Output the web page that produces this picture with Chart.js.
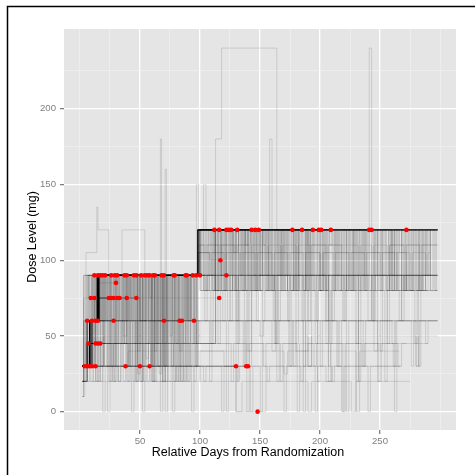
<!DOCTYPE html>
<html>
<head>
<meta charset="utf-8">
<script src="https://cdn.jsdelivr.net/npm/chart.js@4"></script>
<style>
  html, body { margin: 0; padding: 0; background: #fff; }
  #wrap { width: 475px; height: 475px; position: relative; }
</style>
</head>
<body>
<div id="wrap"><canvas id="chart" width="475" height="475"></canvas></div>
<script>
// tick values
const dayTicks = [50, 100, 150, 200, 250];
const dayGrid = [0, 25, 50, 75, 100, 125, 150, 175, 200, 225, 250, 275, 300];
const doseTicks = [0, 50, 100, 150, 200];
const doseGrid = [0, 25, 50, 75, 100, 125, 150, 175, 200, 225];

// each track: day, dose, day, dose, ... (dose held until the next day)
const earlyTracks = [
  [2,30, 4,30],
  [2,20, 3,30, 6,30],
  [2,30, 8,30],
  [2,10, 4,30, 10,30],
  [2,30, 5,45, 9,30, 13,30],
  [2,30, 10,60, 20,30, 38,30],
  [2,30, 12,45, 30,30, 50,30],
  [3,30, 8,60, 16,75, 35,30, 58,30],
  [2,30, 7,45],
  [2,30, 6,45, 13,45],
  [2,20, 6,30, 12,45, 15,45],
  [2,30, 8,45, 17,45],
  [2,30, 6,60],
  [2,30, 5,60, 10,60],
  [2,30, 7,45, 13,60],
  [2,30, 9,60, 15,60],
  [2,30, 8,60, 15,90, 22,60, 28,60],
  [2,30, 8,60, 16,90, 50,60, 55,90, 65,60, 70,60],
  [2,20, 6,45, 12,60, 40,90, 60,60, 83,60],
  [2,30, 10,60, 30,75, 50,60, 85,60],
  [2,30, 8,60, 18,90, 70,30, 73,90, 90,60, 95,60],
  [2,30, 9,75],
  [2,30, 6,60, 12,75],
  [2,30, 8,60, 15,75, 24,75],
  [2,30, 10,60, 16,75, 26,75],
  [2,20, 6,45, 14,75, 28,75],
  [2,30, 8,60, 16,90, 25,75, 31,75],
  [2,30, 10,60, 15,75, 33,75],
  [2,30, 8,60, 14,90, 30,75, 39,75],
  [2,30, 9,60, 16,75, 47,75],
  [2,30, 8,60, 16,85, 30,85],
  [2,30, 6,60, 10,90, 12,90],
  [2,30, 8,60, 12,90, 15,90],
  [2,30, 6,60, 14,90, 17,90],
  [2,30, 9,60, 15,90, 19,90],
  [2,20, 6,45, 12,75, 16,90, 21,90],
  [2,30, 8,60, 15,90, 20,60, 22,90, 26,90],
  [2,30, 8,60, 15,90, 25,45, 26,90, 29,90],
  [2,30, 10,60, 16,90, 31,90],
  [2,30, 8,60, 16,90, 28,20, 30,90, 37,90],
  [2,30, 8,60, 15,90, 33,60, 36,90, 39,90],
  [2,30, 6,60, 14,90, 30,45, 32,90, 45,90],
  [2,30, 8,60, 15,90, 40,30, 42,90, 47,90],
  [2,30, 8,60, 16,90, 35,60, 38,90, 51,90],
  [2,20, 6,60, 14,90, 44,20, 46,90, 54,90],
  [2,30, 8,60, 15,90, 48,40, 50,90, 56,90],
  [2,30, 10,60, 17,90, 42,75, 45,90, 58,90],
  [2,30, 8,60, 15,90, 52,30, 54,90, 61,90],
  [2,30, 8,60, 16,90, 36,50, 39,90, 62.5,90],
  [2,30, 8,60, 15,90, 60,20, 62,90, 68,90],
  [2,30, 6,60, 15,90, 45,60, 48,90, 66,25, 68,90, 70,90],
  [2,30, 8,60, 14,90, 55,35, 57,90, 72,60, 74,90, 78,90],
  [2,30, 8,60, 16,90, 64,30, 67,90, 79,90],
  [2,30, 8,60, 15,90, 69,20, 71,90, 80,45, 82,90, 88,90],
  [2,30, 10,60, 16,90, 58,75, 60,90, 75,50, 77,90, 89,90],
  [2,30, 8,60, 15,90, 70,30, 72,90, 85,60, 87,90, 94,90],
  [2,30, 8,60, 15,90, 62,40, 64,90, 90,20, 92,90, 97,90],
  [2,30, 6,60, 14,90, 48,25, 50,90, 77,0, 79,90, 100,90]
];

const lateTracks = [
  [2,30, 8,60, 15,90, 98,120, 112,120],
  [2,30, 8,60, 16,90, 99,120, 116,120],
  [2,30, 8,60, 15,90, 100,120, 110,80, 112,120, 122,120],
  [2,30, 8,60, 15,90, 98,120, 115,90, 117,120, 124,120],
  [2,30, 8,60, 15,90, 60,30, 62,90, 99,120, 126,120],
  [2,30, 8,60, 15,90, 99,120, 118,80, 121,120, 131,120],
  [2,30, 10,60, 16,90, 98,120, 125,80, 127,120, 143,120],
  [2,30, 8,60, 15,90, 99,120, 130,60, 132,120, 146,120],
  [2,30, 8,60, 15,90, 98,120, 122,90, 125,120, 138,80, 140,120, 149,120],
  [2,30, 8,60, 15,90, 99,120, 140,80, 142,120, 160,90, 163,120, 177,120],
  [2,30, 8,60, 15,90, 98,120, 128,105, 130,120, 150,80, 153,120, 170,90, 172,120, 185,120],
  [2,30, 8,60, 16,90, 99,120, 135,80, 137,120, 165,60, 167,120, 194,120],
  [2,30, 8,60, 15,90, 98,120, 145,90, 147,120, 175,80, 178,120, 199,120],
  [2,30, 8,60, 15,90, 99,120, 120,80, 122,120, 155,80, 157,120, 188,90, 190,120, 201,120],
  [2,30, 8,60, 15,90, 100,120, 132,80, 134,120, 168,80, 170,120, 195,80, 197,120, 209,120],
  [2,30, 8,60, 15,90, 98,120, 142,80, 144,120, 180,90, 182,120, 215,80, 218,120, 241,120],
  [2,30, 8,60, 15,90, 99,120, 150,80, 152,120, 190,60, 192,120, 225,80, 228,120, 243,120],
  [2,30, 8,60, 15,90, 98,120, 160,80, 162,120, 205,80, 207,120, 250,90, 252,120, 272,120],
  [2,30, 8,60, 15,90, 99,105, 108,100, 117,100],
  [2,30, 8,60, 15,90, 113,120, 118,90, 122,90],
  [2,30, 8,60, 16,75, 116,75],
  [2,30, 8,60, 15,90, 60,30, 100,20, 130,0, 148,0],
  [2,30, 30,60, 60,30, 130,30],
  [2,30, 8,60, 20,30, 100,40, 120,30, 138.5,30],
  [2,30, 8,45, 40,30, 140,30]
];

const completerTracks = [
  [2,30, 8,60, 15,90, 98,120, 130,80, 132,120, 170,80, 173,120, 220,80, 222,120, 260,80, 263,120, 298,120],
  [2,30, 8,60, 15,90, 99,120, 145,80, 147,120, 185,80, 188,120, 235,90, 237,120, 275,80, 278,120, 298,120],
  [2,30, 8,60, 15,90, 98,120, 112,80, 115,120, 155,90, 157,120, 200,80, 202,120, 245,80, 248,120, 285,80, 288,120, 298,120],
  [2,30, 8,60, 15,90, 100,120, 125,80, 127,120, 165,80, 168,120, 212,80, 214,120, 241,240, 243,120, 265,80, 268,120, 298,120],
  [2,30, 8,60, 15,90, 98,120, 138,110, 142,120, 178,80, 180,120, 228,80, 230,120, 292,80, 298,80],
  [2,30, 10,60, 16,90, 98,110, 140,120, 190,110, 220,120, 255,80, 258,110, 298,110],
  [2,30, 8,60, 15,90, 99,105, 130,80, 133,105, 200,80, 203,105, 265,80, 268,105, 272,80, 298,80],
  [2,30, 8,60, 15,90, 50,60, 52,90, 130,60, 132,90, 180,45, 182,90, 240,60, 243,90, 298,90],
  [2,30, 8,60, 14,90, 70,30, 72,90, 113,80, 150,90, 210,60, 212,90, 270,80, 272,90, 298,90],
  [2,30, 8,60, 15,90, 113,120, 140,90, 175,80, 178,90, 298,90],
  [2,30, 8,60, 100,45, 113,60, 160,40, 163,60, 215,30, 218,60, 260,45, 263,60, 298,60],
  [2,30, 10,60, 55,45, 58,60, 110,60, 150,50, 153,60, 200,30, 202,60, 250,40, 252,60, 280,30, 283,60, 298,60],
  [2,20, 6,45, 113,45, 180,40, 190,45, 265,30, 268,45, 290,45],
  [2,30, 60,20, 100,30, 150,0, 155,30, 205,20, 210,30, 267,30],
  [2,20, 80,30, 130,0, 135,20, 190,0, 193,20, 226,0, 230,20, 275,20],
  [2,30, 40,40, 113,40, 170,25, 173,40, 230,0, 233,40, 266,40],
  [2,30, 20,50, 113,50, 190,30, 193,50, 280,30, 282,50, 298,50],
  [2,30, 8,45, 113,120, 180,80, 182,120, 298,120],
  [2,30, 10,60, 113,120, 150,90, 152,120, 260,80, 262,120, 298,120],
  [2,30, 8,45, 113,90, 205,60, 207,90, 298,90],
  [2,30, 69,90, 98,120, 230,80, 232,120, 298,120],
  [2,30, 20,45, 69,90, 298,90]
];

// subjects with frequent short dose interruptions
const denseTracks = [
  [2,20, 3,90, 6,20, 8,90, 14,45, 16,90, 22,30, 24,90, 31,60, 33,90, 40,20, 42,90, 49,45, 51,90, 57,30, 59,90, 66,60, 68,90, 74,20, 76,90, 83,40, 85,90, 92,30, 94,90, 99,120, 106,80, 108,120, 117,90, 119,120, 127,80, 129,120, 138,80, 140,120, 149,90, 151,120, 158,80, 160,120, 169,80, 171,120, 181,80, 183,120, 192,90, 194,120, 204,80, 206,120, 216,80, 218,120, 227,80, 229,120, 239,90, 241,120, 251,80, 253,120, 262,80, 264,120, 274,80, 276,120, 286,80, 288,120, 298,120],
  [2,10, 3,60, 5,90, 9,30, 11,90, 18,60, 20,90, 27,20, 29,90, 35,45, 37,90, 44,30, 46,90, 53,60, 55,90, 61,20, 63,90, 70,45, 72,90, 79,30, 81,90, 87,60, 89,90, 95,20, 97,90, 101,120, 110,80, 112,120, 121,80, 123,120, 133,90, 135,120, 143,80, 145,120, 154,80, 156,120, 164,90, 166,120, 176,80, 178,120, 187,80, 189,120, 199,80, 201,120, 210,90, 212,120, 222,80, 224,120, 233,80, 235,120, 246,80, 248,120, 257,90, 259,120, 269,80, 271,120, 280,80, 282,120, 292,80, 294,120, 298,120],
  [2,30, 4,90, 11,20, 13,90, 20,45, 21,90, 26,30, 28,90, 38,60, 40,90, 47,20, 49,90, 55,30, 57,90, 64,45, 66,90, 72,30, 74,90, 81,20, 83,90, 90,45, 92,90, 98,120, 103,80, 105,120, 114,80, 116,120, 124,90, 126,120, 136,80, 138,120, 146,80, 148,120, 157,80, 159,120, 167,90, 169,120, 179,80, 181,120, 190,80, 192,120, 202,90, 204,120, 213,80, 215,120, 225,80, 227,120, 236,80, 238,120, 249,80, 251,120, 260,90, 262,120, 271,80, 273,120, 283,80, 285,120, 295,80, 297,120, 298,120],
  [2,30, 7,90, 12,60, 14,90, 24,20, 26,90, 33,45, 35,90, 42,30, 44,90, 51,20, 53,90, 60,60, 62,90, 68,30, 70,90, 77,45, 79,90, 86,20, 88,90, 96,30, 98,90, 104,60, 106,90, 115,45, 117,90, 125,60, 127,90, 137,30, 139,90, 147,60, 149,90, 162,45, 164,90, 173,60, 175,90, 186,30, 188,90, 197,60, 199,90, 208,45, 210,90, 220,60, 222,90, 232,30, 234,90, 244,60, 246,90, 256,45, 258,90, 268,60, 270,90, 282,30, 284,90, 298,90],
  [2,30, 6,60, 13,20, 15,60, 23,0, 25,60, 34,30, 36,60, 46,20, 48,60, 59,30, 61,60, 71,0, 73,60, 84,20, 86,60, 97,30, 99,60, 108,20, 110,60, 122,0, 124,60, 136,30, 138,60, 150,0, 152,60, 164,20, 166,60, 178,30, 180,60, 186,0, 188,60, 198,20, 200,60, 214,30, 216,60, 222,0, 224,60, 236,30, 238,60, 248,20, 250,60, 262,0, 264,60, 276,30, 278,60, 288,45, 290,60, 298,60],
  [2,30, 9,20, 11,30, 19,0, 21,30, 32,20, 34,30, 43,0, 45,30, 56,20, 58,30, 67,0, 69,30, 82,20, 84,30, 93,0, 95,30, 103,20, 105,30, 118,0, 120,30, 131,20, 133,30, 142,0, 144,30, 156,20, 158,30, 170,0, 172,30, 184,20, 186,30, 196,0, 198,30, 210,20, 212,30, 218,0, 220,30, 232,20, 234,30, 240,0, 242,30, 254,20, 256,30, 267,30],
  [2,30, 8,60, 15,90, 23,30, 25,90, 37,45, 39,90, 50,20, 52,90, 63,45, 65,90, 76,30, 78,90, 89,60, 91,90, 100,80, 109,45, 111,80, 119,60, 121,80, 131,45, 133,80, 141,30, 143,80, 152,60, 154,80, 163,45, 165,80, 174,30, 176,80, 185,60, 187,80, 196,45, 198,80, 207,30, 209,80, 219,60, 221,80, 230,45, 232,80, 243,60, 245,80, 254,30, 256,80, 266,60, 268,80, 279,45, 281,80, 292,80],
  [2,30, 8,60, 15,90, 19,60, 21,90, 29,45, 31,90, 41,60, 43,90, 53,20, 55,90, 65,30, 67,90, 80,60, 82,90, 93,45, 95,90, 100,120, 107,90, 109,120, 118,80, 120,120, 130,105, 132,120, 141,80, 143,120, 153,110, 155,120, 162,80, 164,120, 174,90, 176,120, 186,80, 188,120, 198,80, 200,120, 208,110, 210,120, 221,80, 223,120, 231,90, 233,120, 244,80, 246,120, 255,80, 257,120, 266,105, 268,120, 277,80, 279,120, 289,90, 291,120, 298,120],
  [2,30, 6,45, 14,20, 16,45, 26,30, 28,45, 39,20, 41,45, 52,0, 54,45, 63,30, 65,45, 78,20, 80,45, 91,30, 93,45, 113,45, 126,20, 128,45, 139,0, 141,45, 153,30, 155,45, 167,20, 169,45, 181,0, 183,45, 195,30, 197,45, 207,20, 209,45, 219,0, 221,45, 235,30, 237,45, 249,20, 251,45, 261,30, 263,45, 272,45],
  [2,20, 5,60, 10,90, 17,30, 19,90, 28,60, 30,90, 39,45, 41,90, 48,30, 50,90, 58,60, 60,90, 69,20, 71,90, 79,45, 81,90, 88,30, 90,90, 98,120, 102,90, 104,120, 111,80, 113,120, 122,80, 124,120, 134,90, 136,120, 147,80, 149,120, 159,80, 161,120, 172,90, 174,120, 183,80, 185,120, 194,80, 196,120, 206,90, 208,120, 217,80, 219,120, 229,80, 231,120, 241,80, 243,120, 252,90, 254,120, 264,80, 266,120, 276,80, 278,120, 287,90, 289,120, 298,120],
  [2,20, 3,90, 8,45, 10,90, 15,20, 17,90, 21,60, 23,90, 30,30, 32,90, 36,20, 38,90, 43,60, 45,90, 52,45, 54,90, 59,20, 61,90, 65,30, 67,90, 73,60, 75,90, 80,20, 82,90, 86,45, 88,90, 91,60, 93,90, 96,30, 98,90, 123,60, 125,90, 161,60, 163,90, 205,45, 207,90, 250,60, 252,90, 298,90],
  [2,20, 4,60, 7,90, 13,30, 15,90, 19,45, 21,90, 25,20, 27,90, 34,60, 36,90, 41,30, 43,90, 47,20, 49,90, 56,45, 58,90, 62,20, 64,90, 69,60, 71,90, 76,30, 78,90, 84,20, 86,90, 90,60, 92,90, 97,45, 99,60, 130,20, 132,60, 175,30, 177,60, 230,20, 232,60, 298,60],
  [2,10, 3,60, 6,90, 10,30, 12,90, 17,20, 19,90, 24,60, 26,90, 32,20, 34,90, 37,45, 39,90, 46,30, 48,90, 54,60, 56,90, 60,30, 62,90, 67,20, 69,90, 73,45, 75,90, 82,30, 84,90, 87,20, 89,90, 93,60, 95,90, 100,80, 140,40, 143,80, 190,30, 193,80, 245,40, 248,80, 290,80],
  [2,30, 3,75, 7,90, 11,45, 13,90, 18,30, 20,90, 23,60, 25,90, 29,20, 31,90, 39,30, 41,90, 45,45, 47,90, 50,20, 52,90, 57,60, 59,90, 63,45, 65,90, 71,20, 73,90, 77,60, 79,90, 83,30, 85,90, 89,20, 91,90, 95,45, 97,90, 98,120, 115,80, 117,120, 150,80, 152,120, 189,80, 191,120, 237,80, 239,120, 280,80, 282,120, 298,120],
  [2,30, 8,60, 15,90, 98,120, 101,80, 103,120, 109,90, 111,120, 119,80, 121,120, 128,80, 130,120, 137,90, 139,120, 148,80, 150,120, 156,80, 158,120, 166,90, 168,120, 177,80, 179,120, 189,80, 191,120, 198,90, 200,120, 211,80, 213,120, 222,80, 224,120, 234,80, 236,120, 245,90, 247,120, 258,80, 260,120, 268,80, 270,120, 281,80, 283,120, 290,90, 292,120, 298,120],
  [2,30, 8,60, 15,90, 99,120, 105,80, 107,120, 113,80, 115,120, 126,90, 128,120, 135,80, 137,120, 144,80, 146,120, 152,90, 154,120, 163,80, 165,120, 171,80, 173,120, 182,90, 184,120, 193,80, 195,120, 203,80, 205,120, 214,90, 216,120, 226,80, 228,120, 238,80, 240,120, 248,90, 250,120, 259,80, 261,120, 272,80, 274,120, 284,80, 286,120, 296,80, 298,80],
  [2,30, 8,60, 15,90, 100,110, 104,80, 106,110, 116,80, 118,110, 129,80, 131,110, 141,80, 143,110, 155,80, 157,110, 167,80, 169,110, 180,80, 182,110, 191,80, 193,110, 205,80, 207,110, 218,80, 220,110, 232,80, 234,110, 243,80, 245,110, 256,80, 258,110, 270,80, 272,110, 283,80, 285,110, 298,110],
  [2,30, 8,60, 15,90, 98,105, 108,80, 110,105, 120,80, 122,105, 134,80, 136,105, 146,80, 148,105, 160,80, 162,105, 173,80, 175,105, 186,80, 188,105, 200,80, 202,105, 211,80, 213,105, 224,80, 226,105, 237,80, 239,105, 250,80, 252,105, 262,80, 264,105, 275,80, 277,105, 288,80, 290,105, 292,105]
];

const outlierTracks = [
  [2,30, 8,60, 15,90, 98,120, 113,180, 118,240, 164,120, 200,80, 203,120, 298,120],
  [2,30, 8,60, 15,90, 67,180, 68,90, 71,160, 72,90, 100,120, 158,180, 160,120, 298,120],
  [2,30, 5,105, 14,135, 15,120, 24,90, 35,120, 54,90, 100,120, 298,120],
  [2,30, 8,60, 15,90, 97,150, 99,120, 103,150, 105,120, 298,120]
];

// red points (last dose of discontinued subjects)
const eventDays = [
  4, 6, 8, 10, 13, 38, 50, 58, 130, 138.5, 140,
  7, 13, 15, 17,
  6, 10, 13, 15, 28, 70, 83, 85, 95,
  9, 12, 24, 26, 28, 31, 33, 39, 47, 116,
  30,
  12, 15, 17, 19, 21, 26, 29, 31, 37, 39, 45, 47, 51, 54, 56, 58, 61, 62.5, 68, 70, 78, 79, 88, 89, 94, 97, 100, 122,
  117,
  112, 116, 122, 124, 126, 131, 143, 146, 149, 177, 185, 194, 199, 201, 209, 241, 243, 272,
  148
];
const eventDoses = [
  30, 30, 30, 30, 30, 30, 30, 30, 30, 30, 30,
  45, 45, 45, 45,
  60, 60, 60, 60, 60, 60, 60, 60, 60,
  75, 75, 75, 75, 75, 75, 75, 75, 75, 75,
  85,
  90, 90, 90, 90, 90, 90, 90, 90, 90, 90, 90, 90, 90, 90, 90, 90, 90, 90, 90, 90, 90, 90, 90, 90, 90, 90, 90, 90,
  100,
  120, 120, 120, 120, 120, 120, 120, 120, 120, 120, 120, 120, 120, 120, 120, 120, 120, 120,
  0
];

const toPoints = (t) => {
  const pts = [];
  for (let i = 0; i < t.length; i += 2) pts.push({ x: t[i], y: t[i + 1] });
  return pts;
};

const allTracks = [...earlyTracks, ...lateTracks, ...completerTracks, ...denseTracks, ...outlierTracks];

const datasets = allTracks.map((t) => ({
  data: toPoints(t),
  stepped: "before",
  borderColor: "rgba(0,0,0,0.12)",
  borderWidth: 1,
  pointRadius: 0,
  fill: false,
}));

datasets.push({
  data: eventDays.map((d, i) => ({ x: d, y: eventDoses[i] })),
  showLine: false,
  pointRadius: 2.3,
  pointBackgroundColor: "#FF0000",
  pointBorderWidth: 0,
  order: -1,
});

const panelBg = {
  id: "panelBg",
  beforeDraw(chart) {
    const { ctx, chartArea: a } = chart;
    ctx.save();
    ctx.fillStyle = "#E5E5E5";
    ctx.fillRect(a.left, a.top, a.right - a.left, a.bottom - a.top);
    ctx.restore();
  },
  afterDraw(chart) {
    const ctx = chart.ctx;
    ctx.save();
    // frame
    ctx.strokeStyle = "#000";
    ctx.lineWidth = 1.5;
    ctx.beginPath();
    ctx.moveTo(7.5, 475);
    ctx.lineTo(7.5, 6.5);
    ctx.lineTo(475, 6.5);
    ctx.stroke();
    // axis titles
    ctx.fillStyle = "#000";
    ctx.font = "12.5px 'Liberation Sans', Arial, sans-serif";
    ctx.textAlign = "center";
    ctx.textBaseline = "middle";
    ctx.fillText("Relative Days from Randomization", 248, 453);
    ctx.translate(33, 237);
    ctx.rotate(-Math.PI / 2);
    ctx.fillText("Dose Level (mg)", 0, 0);
    ctx.restore();
  },
};

const isMajor = (list) => (c) => c.tick && list.includes(c.tick.value);

new Chart(document.getElementById("chart"), {
  type: "line",
  data: { datasets },
  options: {
    responsive: false,
    animation: false,
    devicePixelRatio: 1,
    layout: { padding: { top: 29, right: 19, left: 0, bottom: 0 } },
    plugins: { legend: { display: false }, tooltip: { enabled: false } },
    scales: {
      x: {
        type: "linear",
        min: -13.3,
        max: 313.3,
        afterBuildTicks: (s) => { s.ticks = dayGrid.map((v) => ({ value: v })); },
        afterFit: (s) => { s.height = 45; },
        border: { display: false },
        grid: {
          color: (c) => (isMajor(dayTicks)(c) ? "#FFFFFF" : "#F2F2F2"),
          lineWidth: (c) => (isMajor(dayTicks)(c) ? 1.3 : 0.6),
          tickColor: (c) => (isMajor(dayTicks)(c) ? "#7F7F7F" : "rgba(0,0,0,0)"),
          tickLength: 4,
        },
        ticks: {
          autoSkip: false,
          maxRotation: 0,
          padding: 2,
          color: "#7F7F7F",
          font: { family: "'Liberation Sans', Arial, sans-serif", size: 9.6 },
          callback: (v) => (dayTicks.includes(v) ? String(v) : ""),
        },
      },
      y: {
        type: "linear",
        min: -12.1,
        max: 252.6,
        afterBuildTicks: (s) => { s.ticks = doseGrid.map((v) => ({ value: v })); },
        afterFit: (s) => { s.width = 64; },
        border: { display: false },
        grid: {
          color: (c) => (isMajor(doseTicks)(c) ? "#FFFFFF" : "#F2F2F2"),
          lineWidth: (c) => (isMajor(doseTicks)(c) ? 1.3 : 0.6),
          tickColor: (c) => (isMajor(doseTicks)(c) ? "#7F7F7F" : "rgba(0,0,0,0)"),
          tickLength: 4,
        },
        ticks: {
          autoSkip: false,
          padding: 4,
          color: "#7F7F7F",
          font: { family: "'Liberation Sans', Arial, sans-serif", size: 9.6 },
          callback: (v) => (doseTicks.includes(v) ? String(v) : ""),
        },
      },
    },
  },
  plugins: [panelBg],
});
</script>
</body>
</html>
